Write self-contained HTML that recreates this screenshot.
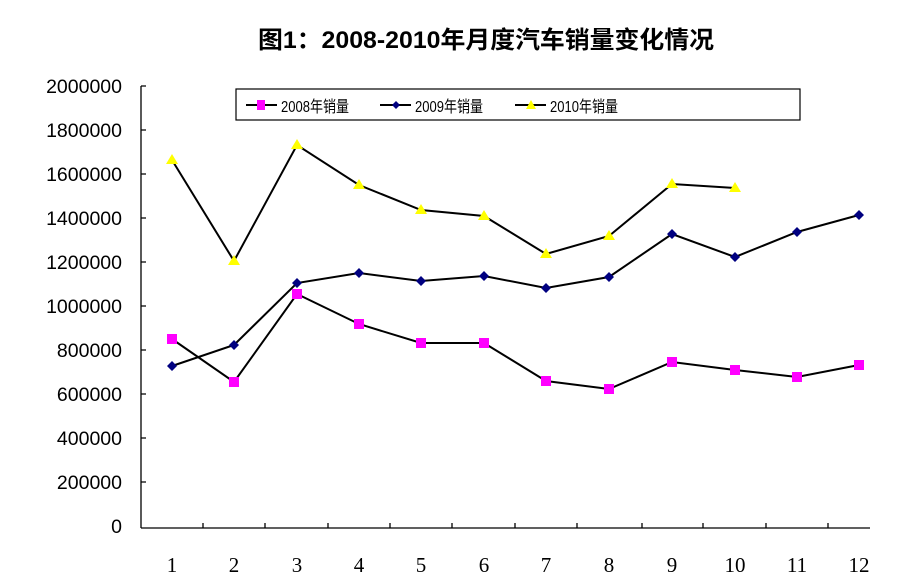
<!DOCTYPE html>
<html><head><meta charset="utf-8"><style>
html,body{margin:0;padding:0;background:#fff;}
svg{display:block;}
</style></head><body>
<svg width="898" height="575" xmlns="http://www.w3.org/2000/svg" font-family="Liberation Sans, Noto Sans CJK SC, sans-serif">
<rect width="898" height="575" fill="#fff"/>
<text x="486" y="48" font-size="24" font-weight="bold" text-anchor="middle" textLength="456" lengthAdjust="spacingAndGlyphs" font-family="Liberation Sans, Noto Sans CJK SC, sans-serif">图1：2008-2010年月度汽车销量变化情况</text>
<g font-size="19.5" text-anchor="end" fill="#000">
<text x="122" y="93">2000000</text>
<text x="122" y="137">1800000</text>
<text x="122" y="181">1600000</text>
<text x="122" y="225">1400000</text>
<text x="122" y="269">1200000</text>
<text x="122" y="313">1000000</text>
<text x="122" y="357">800000</text>
<text x="122" y="401">600000</text>
<text x="122" y="445">400000</text>
<text x="122" y="489">200000</text>
<text x="122" y="533">0</text>
</g>
<g stroke="#000" stroke-width="1.3">
<line x1="141" y1="86" x2="141" y2="528"/>
<line x1="141" y1="528" x2="870" y2="528"/>
<path d="M141 86h5M141 130h5M141 174h5M141 218h5M141 262h5M141 306h5M141 350h5M141 394h5M141 438h5M141 482h5"/>
<path d="M203 528v-5M265 528v-5M328 528v-5M390 528v-5M452 528v-5M515 528v-5M577 528v-5M642 528v-5M703 528v-5M766 528v-5M828 528v-5"/>
</g>
<g font-size="21" text-anchor="middle" font-family="Liberation Serif, serif">
<text x="172" y="572">1</text><text x="234" y="572">2</text><text x="297" y="572">3</text><text x="359" y="572">4</text><text x="421" y="572">5</text><text x="484" y="572">6</text><text x="546" y="572">7</text><text x="609" y="572">8</text><text x="672" y="572">9</text><text x="735" y="572">10</text><text x="797" y="572">11</text><text x="859" y="572">12</text>
</g>
<g fill="none" stroke="#000" stroke-width="2">
<polyline points="172,339 234,382 297,294 359,324 421,343 484,343 546,381 609,389 672,362 735,370 797,377 859,365"/>
<polyline points="172,366 234,345 297,283 359,273 421,281 484,276 546,288 609,277 672,234 735,257 797,232 859,215"/>
<polyline points="172,160 234,261 297,145 359,185 421,210 484,216 546,254 609,236 672,184 735,188"/>
</g>
<g fill="#ff00ff">
<rect x="167" y="334" width="10" height="10"/><rect x="229" y="377" width="10" height="10"/><rect x="292" y="289" width="10" height="10"/><rect x="354" y="319" width="10" height="10"/><rect x="416" y="338" width="10" height="10"/><rect x="479" y="338" width="10" height="10"/><rect x="541" y="376" width="10" height="10"/><rect x="604" y="384" width="10" height="10"/><rect x="667" y="357" width="10" height="10"/><rect x="730" y="365" width="10" height="10"/><rect x="792" y="372" width="10" height="10"/><rect x="854" y="360" width="10" height="10"/>
</g>
<g fill="#000080">
<path d="M172 361l5 5-5 5-5-5zM234 340l5 5-5 5-5-5zM297 278l5 5-5 5-5-5zM359 268l5 5-5 5-5-5zM421 276l5 5-5 5-5-5zM484 271l5 5-5 5-5-5zM546 283l5 5-5 5-5-5zM609 272l5 5-5 5-5-5zM672 229l5 5-5 5-5-5zM735 252l5 5-5 5-5-5zM797 227l5 5-5 5-5-5zM859 210l5 5-5 5-5-5z"/>
</g>
<g fill="#ffff00">
<path d="M172 154l6 10h-12zM234 255l6 10h-12zM297 139l6 10h-12zM359 179l6 10h-12zM421 204l6 10h-12zM484 210l6 10h-12zM546 248l6 10h-12zM609 230l6 10h-12zM672 178l6 10h-12zM735 182l6 10h-12z"/>
</g>
<rect x="236" y="89" width="564" height="31" fill="#fff" stroke="#000" stroke-width="1.2"/>
<g stroke="#000" stroke-width="2"><line x1="246" y1="105" x2="277" y2="105"/><line x1="380" y1="105" x2="411" y2="105"/><line x1="515" y1="105" x2="546" y2="105"/></g>
<rect x="257" y="100" width="8" height="10" fill="#ff00ff"/>
<path d="M396 101l4 4-4 4-4-4z" fill="#000080"/>
<path d="M531 100l5 9h-10z" fill="#ffff00"/>
<g font-size="16" font-family="Liberation Sans, Noto Sans CJK SC, sans-serif">
<text x="281" y="112" textLength="68" lengthAdjust="spacingAndGlyphs">2008年销量</text>
<text x="415" y="112" textLength="68" lengthAdjust="spacingAndGlyphs">2009年销量</text>
<text x="550" y="112" textLength="68" lengthAdjust="spacingAndGlyphs">2010年销量</text>
</g>
</svg>
</body></html>
